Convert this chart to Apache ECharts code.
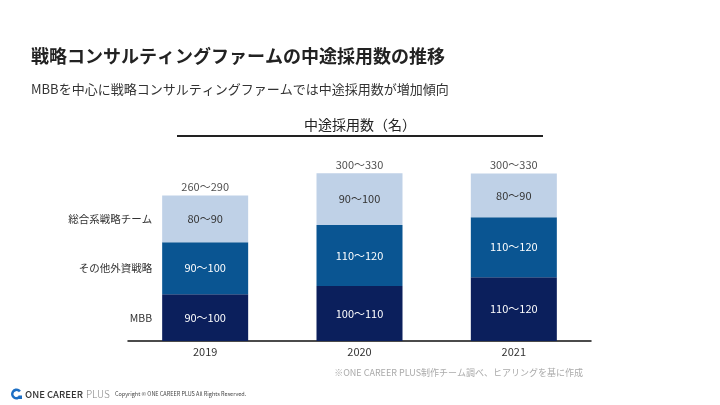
<!DOCTYPE html>
<html><head><meta charset="utf-8">
<script src="https://cdn.jsdelivr.net/npm/echarts@6/dist/echarts.min.js"></script>
<style>html,body{margin:0;padding:0;background:#fff}#c{width:720px;height:405px}</style>
</head><body><div id="c"></div>
<script>
var years = ['2019', '2020', '2021'];
var seriesNames = ['MBB', 'その他外資戦略', '総合系戦略チーム'];
var mbbValues = [88, 103.5, 120];
var otherValues = [98, 115, 113];
var sogoValues = [88, 97, 82];
var mbbLabels = ['90〜100', '100〜110', '110〜120'];
var otherLabels = ['90〜100', '110〜120', '110〜120'];
var sogoLabels = ['80〜90', '90〜100', '80〜90'];
var totalLabels = ['260〜290', '300〜330', '300〜330'];

var FONT = '"Noto Sans CJK JP", "Noto Sans", sans-serif';
var colors = ['#0b1f5c', '#0a5592', '#bfd1e7'];
var values = [mbbValues, otherValues, sogoValues];
var labels = [mbbLabels, otherLabels, sogoLabels];
var totals = years.map(function (_, i) { return mbbValues[i] + otherValues[i] + sogoValues[i]; });

var series = [];
values.forEach(function (vals, k) {
  series.push({
    type: 'bar', name: seriesNames[k], stack: 'main', barWidth: 86, barGap: '-100%',
    data: vals,
    itemStyle: { color: colors[k] },
    label: {
      show: true, position: 'inside', fontFamily: FONT, fontSize: 11,
      color: k === 2 ? '#333' : '#fff',
      formatter: function (p) { return labels[k][p.dataIndex]; }
    },
    silent: true
  });
});
values.forEach(function (vals, k) {
  series.push({
    type: 'bar', name: seriesNames[k] + '_n', stack: 'names', barWidth: 86, barGap: '-100%',
    data: vals.map(function (v, i) {
      return i === 0 ? { value: v, label: { show: true } } : v;
    }),
    itemStyle: { color: 'rgba(0,0,0,0)' },
    label: {
      show: false, position: 'left', distance: 10, fontFamily: FONT, fontSize: 10.5, color: '#333',
      formatter: function () { return seriesNames[k]; }
    },
    silent: true, z: 1
  });
});
series.push({
  type: 'scatter', data: totals, symbolSize: 0,
  label: {
    show: true, position: 'top', distance: 3, fontFamily: FONT, fontSize: 11, color: '#222',
    formatter: function (p) { return totalLabels[p.dataIndex]; }
  },
  silent: true
});

var chart = echarts.init(document.getElementById('c'), null, { renderer: 'canvas' });
chart.setOption({
  backgroundColor: '#fff',
  animation: false,
  grid: { left: 128, right: 129, top: 155, bottom: 64 },
  xAxis: {
    type: 'category', data: years,
    axisLine: { lineStyle: { color: '#111', width: 1.5 } },
    axisTick: { show: false },
    axisLabel: { fontFamily: FONT, fontSize: 11, color: '#333', margin: 5 }
  },
  yAxis: { type: 'value', min: 0, max: 350, show: false, splitLine: { show: false } },
  series: series,
  graphic: [
    { type: 'text', x: 31, y: 56, style: { text: '戦略コンサルティングファームの中途採用数の推移', font: 'bold 18px ' + FONT, fill: '#222', textVerticalAlign: 'middle' } },
    { type: 'text', x: 31, y: 89.5, style: { text: 'MBBを中心に戦略コンサルティングファームでは中途採用数が増加傾向', font: '13px ' + FONT, fill: '#333', textVerticalAlign: 'middle' } },
    { type: 'text', x: 360, y: 125, style: { text: '中途採用数（名）', font: '14px ' + FONT, fill: '#222', textAlign: 'center', textVerticalAlign: 'middle' } },
    { type: 'line', shape: { x1: 177, y1: 136, x2: 543, y2: 136 }, style: { stroke: '#222', lineWidth: 2 } },
    { type: 'text', x: 583, y: 373, style: { text: '※ONE CAREER PLUS制作チーム調べ、ヒアリングを基に作成', font: '9px ' + FONT, fill: '#aaa', textAlign: 'right', textVerticalAlign: 'middle' } },
    { type: 'arc', shape: { cx: 16.5, cy: 394, r: 4.2, startAngle: 0.6, endAngle: 0.6 + Math.PI * 1.6 }, style: { stroke: '#1d6fc4', lineWidth: 2.6, fill: null } },
    { type: 'rect', shape: { x: 18.5, y: 395.5, width: 3.5, height: 3.5 }, style: { fill: '#1d6fc4' } },
    { type: 'text', x: 25, y: 394, style: { text: 'ONE CAREER', font: '500 9.5px ' + FONT, fill: '#333', textVerticalAlign: 'middle' } },
    { type: 'text', x: 86, y: 394, style: { text: 'PLUS', font: '300 10px ' + FONT, fill: '#888', textVerticalAlign: 'middle' } },
    { type: 'text', x: 115, y: 394, style: { text: 'Copyright © ONE CAREER PLUS All Rights Reserved.', font: '5.5px ' + FONT, fill: '#444', textVerticalAlign: 'middle' } }
  ]
});
</script></body></html>
